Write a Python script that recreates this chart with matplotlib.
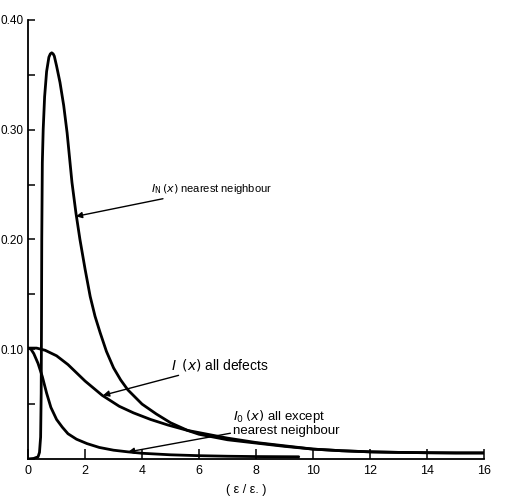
import numpy as np
import matplotlib.pyplot as plt
from matplotlib.ticker import MultipleLocator

# nearest neighbour curve I_N(x)
xn = [0, 0.2, 0.35, 0.4, 0.44, 0.46, 0.47, 0.48, 0.5, 0.53, 0.58, 0.65, 0.73, 0.78, 0.83,
      0.88, 0.92, 1.0, 1.12, 1.25, 1.37, 1.54, 1.68, 1.82, 2.0, 2.18, 2.35, 2.53, 2.75, 3.0,
      3.25, 3.5, 4.0, 4.5, 5.0, 5.6, 6.0, 7.0, 8.0, 9.0, 10.0, 11.0, 12.0, 13.0, 14.0,
      15.0, 16.0]
yn = [0.0, 0.0005, 0.002, 0.006, 0.02, 0.06, 0.12, 0.2, 0.27, 0.30, 0.33, 0.353, 0.366, 0.369,
      0.370, 0.369, 0.367, 0.358, 0.343, 0.322, 0.297, 0.252, 0.224, 0.200, 0.173, 0.148,
      0.130, 0.115, 0.098, 0.083, 0.072, 0.063, 0.050, 0.041, 0.033, 0.026, 0.0225, 0.0175,
      0.0145, 0.0115, 0.009, 0.0075, 0.0065, 0.006, 0.0057, 0.0055, 0.0055]

# all defects I(x)
xa = [0, 0.3, 0.6, 1.0, 1.4, 2.0, 2.6, 3.2, 3.7, 4.3, 4.9, 5.6, 6.0, 7.0, 8.0, 9.0,
      10.0, 11.0, 12.0, 13.0, 14.0, 15.0, 16.0]
ya = [0.101, 0.101, 0.099, 0.094, 0.086, 0.071, 0.058, 0.048, 0.042, 0.036, 0.031, 0.026,
      0.024, 0.019, 0.015, 0.012, 0.009, 0.0075, 0.0065, 0.006, 0.0057, 0.0055, 0.0055]

# all except nearest neighbour I_0(x)
x0 = [0, 0.1, 0.2, 0.35, 0.5, 0.65, 0.8, 1.0, 1.2, 1.4, 1.7, 2.07, 2.5, 3.0, 3.5, 4.0,
      5.0, 6.0, 7.0, 8.0, 9.5]
y0 = [0.101, 0.100, 0.096, 0.087, 0.075, 0.060, 0.047, 0.036, 0.029, 0.023, 0.018, 0.014,
      0.0105, 0.008, 0.0065, 0.0052, 0.0038, 0.003, 0.0025, 0.0022, 0.002]

xticks = [0, 2, 4, 6, 8, 10, 12, 14, 16]
yticks = [0.10, 0.20, 0.30, 0.40]
ylabels = ['0.10', '0.20', '0.30', '0.40']

plt.rcParams['font.family'] = ['Liberation Sans', 'DejaVu Sans']
plt.rcParams['mathtext.fontset'] = 'dejavusans'

fig = plt.figure(figsize=(5.3, 4.97), dpi=100)
ax = fig.add_axes([0.053, 0.0765, 0.86, 0.8835])

for xs, ys in [(xn, yn), (xa, ya), (x0, y0)]:
    ax.plot(xs, ys, color='black', lw=2.0, solid_joinstyle='round', solid_capstyle='round')

ax.set_xlim(0, 16)
ax.set_ylim(0, 0.40)
ax.spines['top'].set_visible(False)
ax.spines['right'].set_visible(False)
ax.spines['left'].set_linewidth(1.3)
ax.spines['bottom'].set_linewidth(1.3)

ax.set_xticks(xticks)
ax.set_xticklabels([str(t) for t in xticks])
ax.set_yticks(yticks)
ax.set_yticklabels(ylabels)
ax.yaxis.set_minor_locator(MultipleLocator(0.05))
ax.tick_params(axis='x', direction='in', length=7, width=1.1, pad=4, labelsize=9)
ax.tick_params(axis='y', which='major', direction='in', length=5, width=1.1, pad=3, labelsize=8.5)
ax.tick_params(axis='y', which='minor', direction='in', length=5, width=1.1)

ax.text(7.65, -0.0285, '( ε / ε. )', fontsize=9, ha='center', va='center')

arrow = dict(arrowstyle='-|>', color='black', lw=1.0, mutation_scale=9, shrinkA=0, shrinkB=0)
ax.annotate(r'$I_{\rm N}\,(x)$ nearest neighbour', xy=(1.68, 0.221), xytext=(4.3, 0.246),
            fontsize=8, va='center', ha='left', arrowprops=arrow)
ax.annotate(r'$I\ \,(x)$ all defects', xy=(2.63, 0.058), xytext=(5.0, 0.086),
            fontsize=10, va='center', ha='left', arrowprops=arrow)
ax.annotate('$I_0\\,(x)$ all except\nnearest neighbour', xy=(3.51, 0.0064), xytext=(7.2, 0.046),
            fontsize=9.5, va='top', ha='left', linespacing=1.0, arrowprops=arrow)

fig.savefig('out.png', dpi=100)
